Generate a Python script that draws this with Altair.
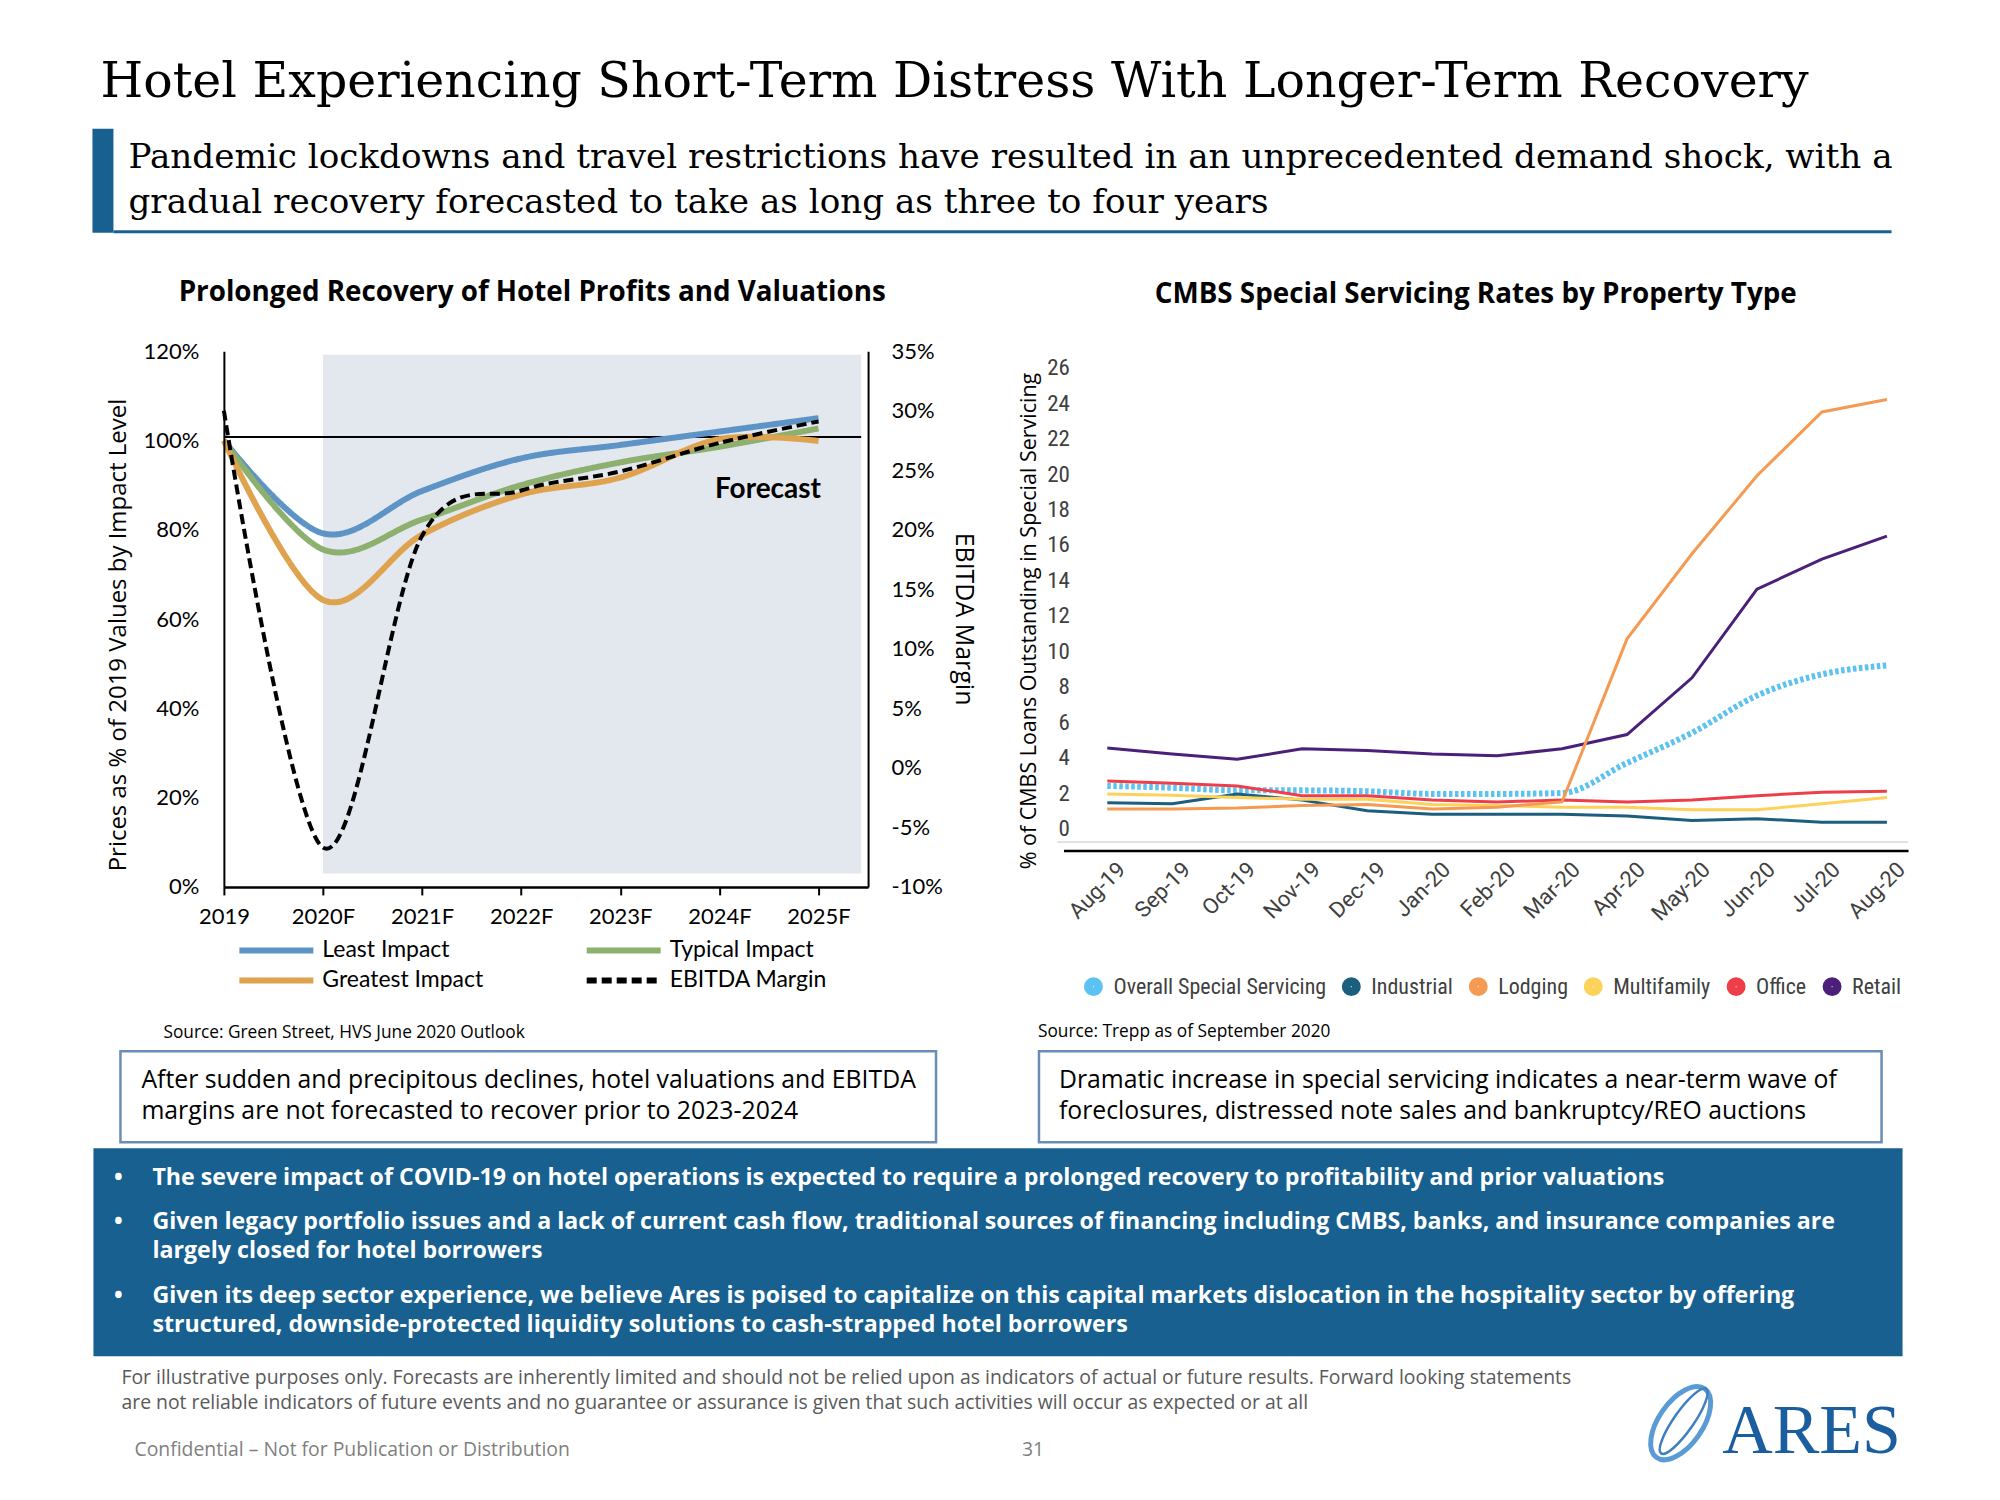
import altair as alt
import pandas as pd

# ---------------- data : left chart ----------------
years = ["2019", "2020F", "2021F", "2022F", "2023F", "2024F", "2025F"]
least_impact = [100.0, 79.2, 88.7, 96.0, 99.0, 102.0, 105.0]
typical_impact = [100.0, 75.6, 82.3, 90.0, 95.1, 98.6, 102.7]
greatest_impact = [100.0, 64.3, 78.9, 87.9, 91.7, 100.3, 99.9]
ebitda_margin = [30.0, -6.7, 19.5, 23.3, 24.9, 27.3, 29.1]
# legend is filled column by column: this order gives rows (Least, Typical) / (Greatest, EBITDA)
impact_series = ["Least Impact", "Greatest Impact", "Typical Impact", "EBITDA Margin"]
impact_colors = ["#5E93C5", "#DFA24E", "#8DB06F", "#000000"]
left_ticks = [0, 20, 40, 60, 80, 100, 120]
right_ticks = [-10, -5, 0, 5, 10, 15, 20, 25, 30, 35]

# ---------------- data : right chart ----------------
months = ["Aug-19", "Sep-19", "Oct-19", "Nov-19", "Dec-19", "Jan-20", "Feb-20",
          "Mar-20", "Apr-20", "May-20", "Jun-20", "Jul-20", "Aug-20"]
cmbs_series = ["Overall Special Servicing", "Industrial", "Lodging", "Multifamily", "Office", "Retail"]
cmbs_colors = ["#5BC2F2", "#1B5E7E", "#F59A52", "#FCD25A", "#EE3E4A", "#4A2079"]
overall = [2.4, 2.3, 2.15, 2.15, 2.1, 1.95, 1.95, 2.0, 3.7, 5.4, 7.5, 8.7, 9.2]
industrial = [1.45, 1.4, 1.95, 1.6, 1.0, 0.8, 0.8, 0.8, 0.7, 0.45, 0.55, 0.35, 0.35]
lodging = [1.1, 1.1, 1.15, 1.3, 1.35, 1.1, 1.2, 1.5, 10.7, 15.5, 19.9, 23.5, 24.2]
multifamily = [1.95, 1.87, 1.75, 1.65, 1.65, 1.35, 1.3, 1.2, 1.2, 1.05, 1.05, 1.4, 1.75]
office = [2.68, 2.55, 2.4, 1.85, 1.85, 1.6, 1.5, 1.6, 1.5, 1.6, 1.85, 2.05, 2.1]
retail = [4.54, 4.2, 3.9, 4.5, 4.4, 4.2, 4.1, 4.5, 5.3, 8.5, 13.5, 15.2, 16.5]
cmbs_ticks = list(range(0, 27, 2))

# ---------------- text ----------------
title_text = "Hotel Experiencing Short-Term Distress With Longer-Term Recovery"
subtitle_lines = ["Pandemic lockdowns and travel restrictions have resulted in an unprecedented demand shock, with a",
                  "gradual recovery forecasted to take as long as three to four years"]
left_title = "Prolonged Recovery of Hotel Profits and Valuations"
right_title = "CMBS Special Servicing Rates by Property Type"
left_source = "Source: Green Street, HVS June 2020 Outlook"
right_source = "Source: Trepp as of September 2020"
left_box_lines = ["After sudden and precipitous declines, hotel valuations and EBITDA",
                  "margins are not forecasted to recover prior to 2023-2024"]
right_box_lines = ["Dramatic increase in special servicing indicates a near-term wave of",
                   "foreclosures, distressed note sales and bankruptcy/REO auctions"]
bullets = [
    ["The severe impact of COVID-19 on hotel operations is expected to require a prolonged recovery to profitability and prior valuations"],
    ["Given legacy portfolio issues and a lack of current cash flow, traditional sources of financing including CMBS, banks, and insurance companies are",
     "largely closed for hotel borrowers"],
    ["Given its deep sector experience, we believe Ares is poised to capitalize on this capital markets dislocation in the hospitality sector by offering",
     "structured, downside-protected liquidity solutions to cash-strapped hotel borrowers"],
]
footnote_lines = ["For illustrative purposes only. Forecasts are inherently limited and should not be relied upon as indicators of actual or future results. Forward looking statements",
                  "are not reliable indicators of future events and no guarantee or assurance is given that such activities will occur as expected or at all"]
confidential = "Confidential \u2013 Not for Publication or Distribution"
page_number = "31"

# ---------------- frames ----------------
price_rows = []
for name, vals in [("Least Impact", least_impact), ("Typical Impact", typical_impact),
                   ("Greatest Impact", greatest_impact)]:
    for i, v in enumerate(vals):
        price_rows.append({"t": i, "value": v, "series": name})
price_df = pd.DataFrame(price_rows)
ebitda_df = pd.DataFrame({"t": list(range(len(years))), "value": ebitda_margin,
                          "series": ["EBITDA Margin"] * len(years)})

overall_df = pd.DataFrame({"month": months, "value": overall, "series": cmbs_series[0]})
other_rows = []
for name, vals in [("Industrial", industrial), ("Multifamily", multifamily), ("Office", office),
                   ("Retail", retail), ("Lodging", lodging)]:
    for m, v in zip(months, vals):
        other_rows.append({"month": m, "value": v, "series": name})
other_df = pd.DataFrame(other_rows)

one = pd.DataFrame({"k": [0]})

# ---------------- layout helpers (page pixel coordinates) ----------------
LEFT_X0, LEFT_Y0 = 223.5, 350.5      # left plot origin on the page
LEFT_W, LEFT_H = 644.5, 536.0
RIGHT_X0 = 1063.0
RIGHT_W, RIGHT_H = 845.0, 499.5
BODY = "Open Sans"
SERIF = "DejaVu Serif"


def LX(p):
    return p - LEFT_X0


def LY(p):
    return p - LEFT_Y0


def text_layer(lines, x, y, size, font=BODY, weight="normal", color="#000000",
               align="left", line_height=None):
    props = dict(align=align, baseline="alphabetic", font=font, fontSize=size,
                 fontWeight=weight, color=color)
    if line_height is not None:
        props["lineHeight"] = line_height
    val = lines if isinstance(lines, str) else list(lines)
    return alt.Chart(one).mark_text(**props).encode(
        x=alt.value(LX(x)), y=alt.value(LY(y)), text=alt.value(val))


def rect_layer(x1, y1, x2, y2, fill, stroke=None, stroke_width=None):
    props = dict(fill=fill)
    if stroke is not None:
        props.update(stroke=stroke, strokeWidth=stroke_width)
    return alt.Chart(one).mark_rect(**props).encode(
        x=alt.value(LX(x1)), x2=alt.value(LX(x2)), y=alt.value(LY(y1)), y2=alt.value(LY(y2)))


BLUE = "#17608F"
decor = [
    rect_layer(8, 8, 1992, 1492, "#ffffff"),
    text_layer(title_text, 100, 96, 49, font=SERIF),
    rect_layer(92, 128, 113, 232, BLUE),
    rect_layer(113, 229.5, 1892, 232.5, BLUE),
    text_layer(subtitle_lines, 128, 167, 34.2, font=SERIF, line_height=45),
    text_layer(left_title, 532, 300, 27.8, weight="bold", align="center"),
    text_layer(right_title, 1476, 302, 27.8, weight="bold", align="center"),
    text_layer(left_source, 163, 1038, 17.3),
    text_layer(right_source, 1038, 1037, 17.3),
    rect_layer(120, 1051, 936, 1142, "#ffffff", "#6A8DB8", 2.5),
    text_layer(left_box_lines, 141, 1088, 24.8, line_height=31),
    rect_layer(1039, 1051, 1882, 1142, "#ffffff", "#6A8DB8", 2.5),
    text_layer(right_box_lines, 1059, 1088, 24.8, line_height=31),
    rect_layer(93, 1148, 1903, 1356, BLUE),
    text_layer("\u2022", 118, 1185, 23.2, weight="bold", color="#ffffff", align="center"),
    text_layer("\u2022", 118, 1229, 23.2, weight="bold", color="#ffffff", align="center"),
    text_layer("\u2022", 118, 1303, 23.2, weight="bold", color="#ffffff", align="center"),
    text_layer(bullets[0], 152, 1185, 23.2, weight="bold", color="#ffffff"),
    text_layer(bullets[1], 152, 1229, 23.2, weight="bold", color="#ffffff", line_height=29),
    text_layer(bullets[2], 152, 1303, 23.2, weight="bold", color="#ffffff", line_height=29),
    text_layer(footnote_lines, 121, 1384, 19.4, color="#595959", line_height=25),
    text_layer(confidential, 134, 1456, 19.4, color="#7F7F7F"),
    text_layer(page_number, 1033, 1456, 19.4, color="#7F7F7F", align="center"),
    text_layer("ARES", 1812, 1453, 70, font="Liberation Serif", color="#1B5EA0", align="center"),
]

ellipse_outer = ("M0,-1C0.287,-1 0.52,-0.552 0.52,0C0.52,0.552 0.287,1 0,1"
                 "C-0.287,1 -0.52,0.552 -0.52,0C-0.52,-0.552 -0.287,-1 0,-1Z")
ellipse_inner = ("M0,-1C0.138,-1 0.25,-0.552 0.25,0C0.25,0.552 0.138,1 0,1"
                 "C-0.138,1 -0.25,0.552 -0.25,0C-0.25,-0.552 -0.138,-1 0,-1Z")
decor.append(alt.Chart(one).mark_point(shape=ellipse_outer, filled=False, stroke="#5B9BD5",
                                        strokeWidth=5, size=7056, opacity=1).encode(
    x=alt.value(LX(1681)), y=alt.value(LY(1423)), angle=alt.value(35)))
decor.append(alt.Chart(one).mark_point(shape=ellipse_inner, filled=False, stroke="#3F7FC0",
                                        strokeWidth=2.5, size=6200, opacity=1).encode(
    x=alt.value(LX(1684)), y=alt.value(LY(1421)), angle=alt.value(35)))

# ---------------- left chart ----------------
years_expr = "[" + ",".join("'%s'" % y for y in years) + "][datum.value]"
x_scale_left = alt.Scale(domain=[0, 6.5], nice=False, zero=False)
y_scale_left = alt.Scale(domain=[0, 120], nice=False, zero=False)
y_scale_ebitda = alt.Scale(domain=[-10, 35], nice=False, zero=False)

x_axis_left = alt.Axis(values=list(range(len(years))), labelExpr=years_expr, tickSize=8, tickWidth=2,
                       tickColor="#000000", domainColor="#000000", domainWidth=2.5, labelFont="Lato",
                       labelFontSize=22, labelColor="#000000", labelPadding=12, labelFlush=False,
                       grid=False, title=None, zindex=1)
y_axis_left = alt.Axis(values=left_ticks, labelExpr="datum.value + '%'", tickSize=0, domainColor="#000000",
                       domainWidth=2, labelPadding=25, labelFont="Lato", labelFontSize=22,
                       labelColor="#000000", labelFlush=False, grid=False, zindex=1,
                       title="Prices as % of 2019 Values by Impact Level", titleFont="Open Sans",
                       titleFontSize=24, titleFontWeight="normal", titleColor="#000000",
                       titleX=-105, titleY=283.5, titleAngle=270, titleAlign="center",
                       titleBaseline="middle")
y_axis_ebitda = alt.Axis(orient="right", values=right_ticks, labelExpr="datum.value + '%'", tickSize=0,
                         domainColor="#000000", domainWidth=2, labelPadding=23, labelFont="Lato",
                         labelFontSize=22, labelColor="#000000", labelFlush=False, grid=False, zindex=1,
                         title="EBITDA Margin", titleFont="Open Sans", titleFontSize=25,
                         titleFontWeight="normal", titleColor="#000000", titleX=95, titleY=267.5,
                         titleAngle=90, titleAlign="center", titleBaseline="middle")

left_legend = alt.Legend(orient="none", legendX=12.5, legendY=588.5, title=None, columns=2,
                         columnPadding=99.5, rowPadding=7, clipHeight=22, symbolType="stroke",
                         symbolSize=5476, symbolStrokeWidth=6, labelFont="Lato", labelFontSize=23,
                         labelColor="#000000", labelOffset=6, labelLimit=400, padding=0)
color_left = alt.Scale(domain=impact_series, range=impact_colors)
dash_left = alt.Scale(domain=impact_series, range=[[1, 0], [1, 0], [1, 0], [10, 5]])

shade = alt.Chart(one).mark_rect(color="#E3E8EF").encode(
    x=alt.XDatum(1, type="quantitative", scale=x_scale_left, axis=x_axis_left), x2=alt.datum(6.43),
    y=alt.YDatum(3, type="quantitative", scale=y_scale_left, axis=y_axis_left), y2=alt.datum(119.2))
hline = alt.Chart(one).mark_rule(color="#000000", strokeWidth=2).encode(
    x=alt.XDatum(0, type="quantitative", scale=x_scale_left, axis=x_axis_left), x2=alt.datum(6.43),
    y=alt.YDatum(100.8, type="quantitative", scale=y_scale_left, axis=y_axis_left))
price_lines = alt.Chart(price_df).mark_line(strokeWidth=6, interpolate="cardinal").encode(
    x=alt.X("t:Q", scale=x_scale_left, axis=x_axis_left),
    y=alt.Y("value:Q", scale=y_scale_left, axis=y_axis_left),
    color=alt.Color("series:N", scale=color_left, legend=left_legend),
    strokeDash=alt.StrokeDash("series:N", scale=dash_left, legend=left_legend),
)
forecast = alt.Chart(one).mark_text(font="Lato", fontSize=28, fontWeight="bold", color="#000000").encode(
    x=alt.XDatum(5.49, type="quantitative", scale=x_scale_left, axis=x_axis_left),
    y=alt.YDatum(88.8, type="quantitative", scale=y_scale_left, axis=y_axis_left),
    text=alt.value("Forecast"))
left_main = alt.layer(shade, hline, price_lines, forecast)

ebitda_line = alt.Chart(ebitda_df).mark_line(strokeWidth=4, interpolate="cardinal").encode(
    x=alt.X("t:Q", scale=x_scale_left, axis=x_axis_left),
    y=alt.Y("value:Q", scale=y_scale_ebitda, axis=y_axis_ebitda),
    color=alt.Color("series:N", scale=color_left, legend=left_legend),
    strokeDash=alt.StrokeDash("series:N", scale=dash_left, legend=left_legend),
)

left_chart = alt.layer(*decor, left_main, ebitda_line).resolve_scale(y="independent").properties(
    width=LEFT_W, height=LEFT_H)

# ---------------- right chart ----------------
cond_font = "Roboto Condensed"
x_scale_right = alt.Scale(type="point", paddingOuter=0.6535, align=0.6747)
y_scale_right = alt.Scale(domain=[-1.24, 26.93], nice=False, zero=False)
x_axis_right = alt.Axis(labelAngle=315, ticks=False, tickSize=0, domainColor="#000000", domainWidth=2.5,
                        labelFont="Roboto", labelFontSize=22, labelColor="#404040", labelPadding=8,
                        labelOffset=7, grid=False, title=None)
y_axis_right = alt.Axis(values=cmbs_ticks, domain=False, ticks=False, tickSize=0, labelPadding=-6,
                        labelFont=cond_font, labelFontSize=23, labelColor="#404040", grid=False,
                        title="% of CMBS Loans Outstanding in Special Servicing", titleFont="Open Sans",
                        titleFontSize=21.5, titleFontWeight="normal", titleColor="#000000",
                        titleX=-34, titleY=269.5, titleAngle=270, titleAlign="center",
                        titleBaseline="middle")
color_right = alt.Scale(domain=cmbs_series, range=cmbs_colors)
dash_right = alt.Scale(domain=[cmbs_series[0]], range=[[3.5, 2.5]])
# hollow circle with a stroke as wide as its diameter reads as a filled dot
right_legend = alt.Legend(orient="none", direction="horizontal", legendX=19, legendY=624.5,
                          title=None, symbolType="circle", symbolSize=80, symbolStrokeWidth=10,
                          labelFont=cond_font, labelFontSize=22, labelColor="#404040", labelOffset=9,
                          columnPadding=0, labelLimit=400, padding=0)

base_rule = alt.Chart(one).mark_rule(color="#D9D9D9", strokeWidth=1.5).encode(
    y=alt.YDatum(-0.77, type="quantitative", scale=y_scale_right, axis=y_axis_right),
    x=alt.value(-6), x2=alt.value(RIGHT_W))
overall_line = alt.Chart(overall_df).mark_line(strokeWidth=6, interpolate="monotone").encode(
    x=alt.X("month:N", sort=months, scale=x_scale_right, axis=x_axis_right),
    y=alt.Y("value:Q", scale=y_scale_right, axis=y_axis_right),
    color=alt.Color("series:N", scale=color_right, legend=right_legend),
    strokeDash=alt.StrokeDash("series:N", scale=dash_right, legend=None))
other_lines = alt.Chart(other_df).mark_line(strokeWidth=3).encode(
    x=alt.X("month:N", sort=months, scale=x_scale_right, axis=x_axis_right),
    y=alt.Y("value:Q", scale=y_scale_right, axis=y_axis_right),
    color=alt.Color("series:N", scale=color_right, legend=right_legend))

right_chart = alt.layer(base_rule, overall_line, other_lines).properties(
    width=RIGHT_W, height=RIGHT_H)

chart = alt.hconcat(left_chart, right_chart, spacing=RIGHT_X0 - LEFT_X0 - LEFT_W, bounds="flush").resolve_scale(
    x="independent", y="independent", color="independent",
    strokeDash="independent").properties(padding=0).configure_view(strokeWidth=0)

chart.save("out.html", embed_options={"renderer": "svg", "actions": False})
